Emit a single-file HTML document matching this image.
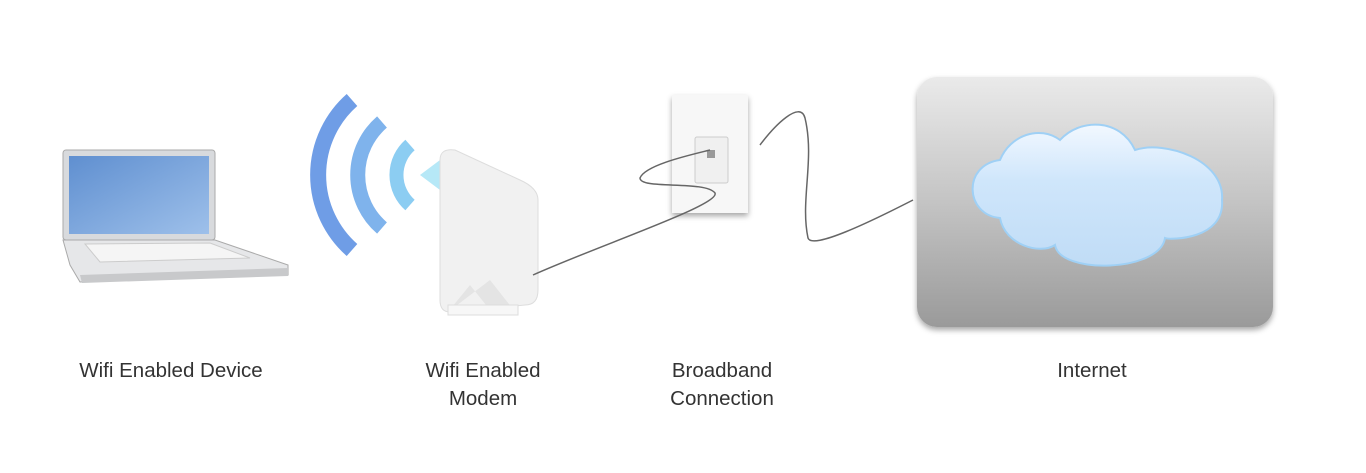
<!DOCTYPE html>
<html><head><style>
body{margin:0;width:1366px;height:473px;background:#fff;position:relative;overflow:hidden;font-family:"Liberation Sans",sans-serif;}
.l{position:absolute;font-size:20.5px;color:#333;text-align:center;line-height:28px;}
</style></head><body>
<svg width="1366" height="473" style="position:absolute;left:0;top:0">
<defs>
<linearGradient id="box" x1="0" y1="0" x2="0" y2="1"><stop offset="0" stop-color="#eaeaea"/><stop offset="0.5" stop-color="#c4c4c4"/><stop offset="1" stop-color="#9a9a9a"/></linearGradient>
<linearGradient id="cl" x1="0" y1="0" x2="0" y2="1"><stop offset="0" stop-color="#f2f8ff"/><stop offset="0.4" stop-color="#cfe6fb"/><stop offset="1" stop-color="#c0dcf6"/></linearGradient>
<linearGradient id="scr" x1="0" y1="0" x2="1" y2="1"><stop offset="0" stop-color="#5f8fd0"/><stop offset="1" stop-color="#9ec0ea"/></linearGradient>
<filter id="sh"><feDropShadow dx="0" dy="3" stdDeviation="3" flood-opacity="0.35"/></filter>
</defs>
<!-- laptop -->
<rect x="63" y="150" width="152" height="90" rx="3" fill="#d8dadd" stroke="#aaa"/>
<rect x="69" y="156" width="140" height="78" fill="url(#scr)"/>
<polygon points="63,240 215,240 288,265 288,275 80,282 70,265" fill="#e6e7e9" stroke="#aaa"/>
<polygon points="85,244 210,243 250,258 100,262" fill="#f5f5f5" stroke="#ccc"/>
<polygon points="80,275 288,268 288,276 82,283" fill="#c8c9cb"/>
<!-- wifi arcs -->
<g fill="none">
<path d="M352,100 A100,100 0 0 0 352,250" stroke="#6f9de6" stroke-width="16"/>
<path d="M382,122 A70,70 0 0 0 382,228" stroke="#7fb3ec" stroke-width="15"/>
<path d="M410,145 A40,40 0 0 0 410,205" stroke="#8ccdf2" stroke-width="14"/>
</g>
<polygon points="420,175 440,160 455,175 440,190" fill="#b6e8f7"/>
<!-- modem -->
<path d="M440,160 Q440,148 455,150 L520,180 Q538,188 538,200 L538,290 Q538,305 525,305 L450,312 Q440,312 440,300 Z" fill="#f1f1f1" stroke="#ddd"/>
<path d="M448,312 L470,285 L490,310 L512,308 L490,280 Z" fill="#e4e4e4"/>
<rect x="448" y="305" width="70" height="10" fill="#f7f7f7" stroke="#ddd"/>
<!-- wall plate -->
<rect x="672" y="95" width="76" height="118" fill="#f7f7f7" filter="url(#sh)"/>
<rect x="695" y="137" width="33" height="46" rx="2" fill="#f0f0f0" stroke="#ccc"/>
<rect x="707" y="150" width="8" height="8" fill="#999"/>
<!-- cables -->
<g fill="none" stroke="#666" stroke-width="1.5">
<path d="M533,275 C600,245 720,205 715,193 C705,180 640,190 640,178 C645,165 690,155 710,150"/>
<path d="M760,145 C775,125 800,100 805,118 C815,160 800,200 808,238 C812,250 870,222 913,200"/>
</g>
<!-- internet box -->
<rect x="917" y="77" width="356" height="250" rx="20" fill="url(#box)" filter="url(#sh)"/>
<path d="M1000,218 C965,215 962,165 1000,160 C1010,135 1040,125 1060,140 C1080,118 1120,118 1135,150 C1165,140 1225,160 1222,200 C1225,240 1170,240 1165,238 C1160,272 1060,275 1055,245 C1040,255 1005,245 1000,218 Z" fill="url(#cl)" stroke="#9fd0f5" stroke-width="2"/>
</svg>
<div class="l" style="left:50px;top:357px;width:242px">Wifi Enabled Device</div>
<div class="l" style="left:400px;top:357px;width:166px">Wifi Enabled<br>Modem</div>
<div class="l" style="left:640px;top:357px;width:164px">Broadband<br>Connection</div>
<div class="l" style="left:1010px;top:357px;width:164px">Internet</div>
</body></html>
